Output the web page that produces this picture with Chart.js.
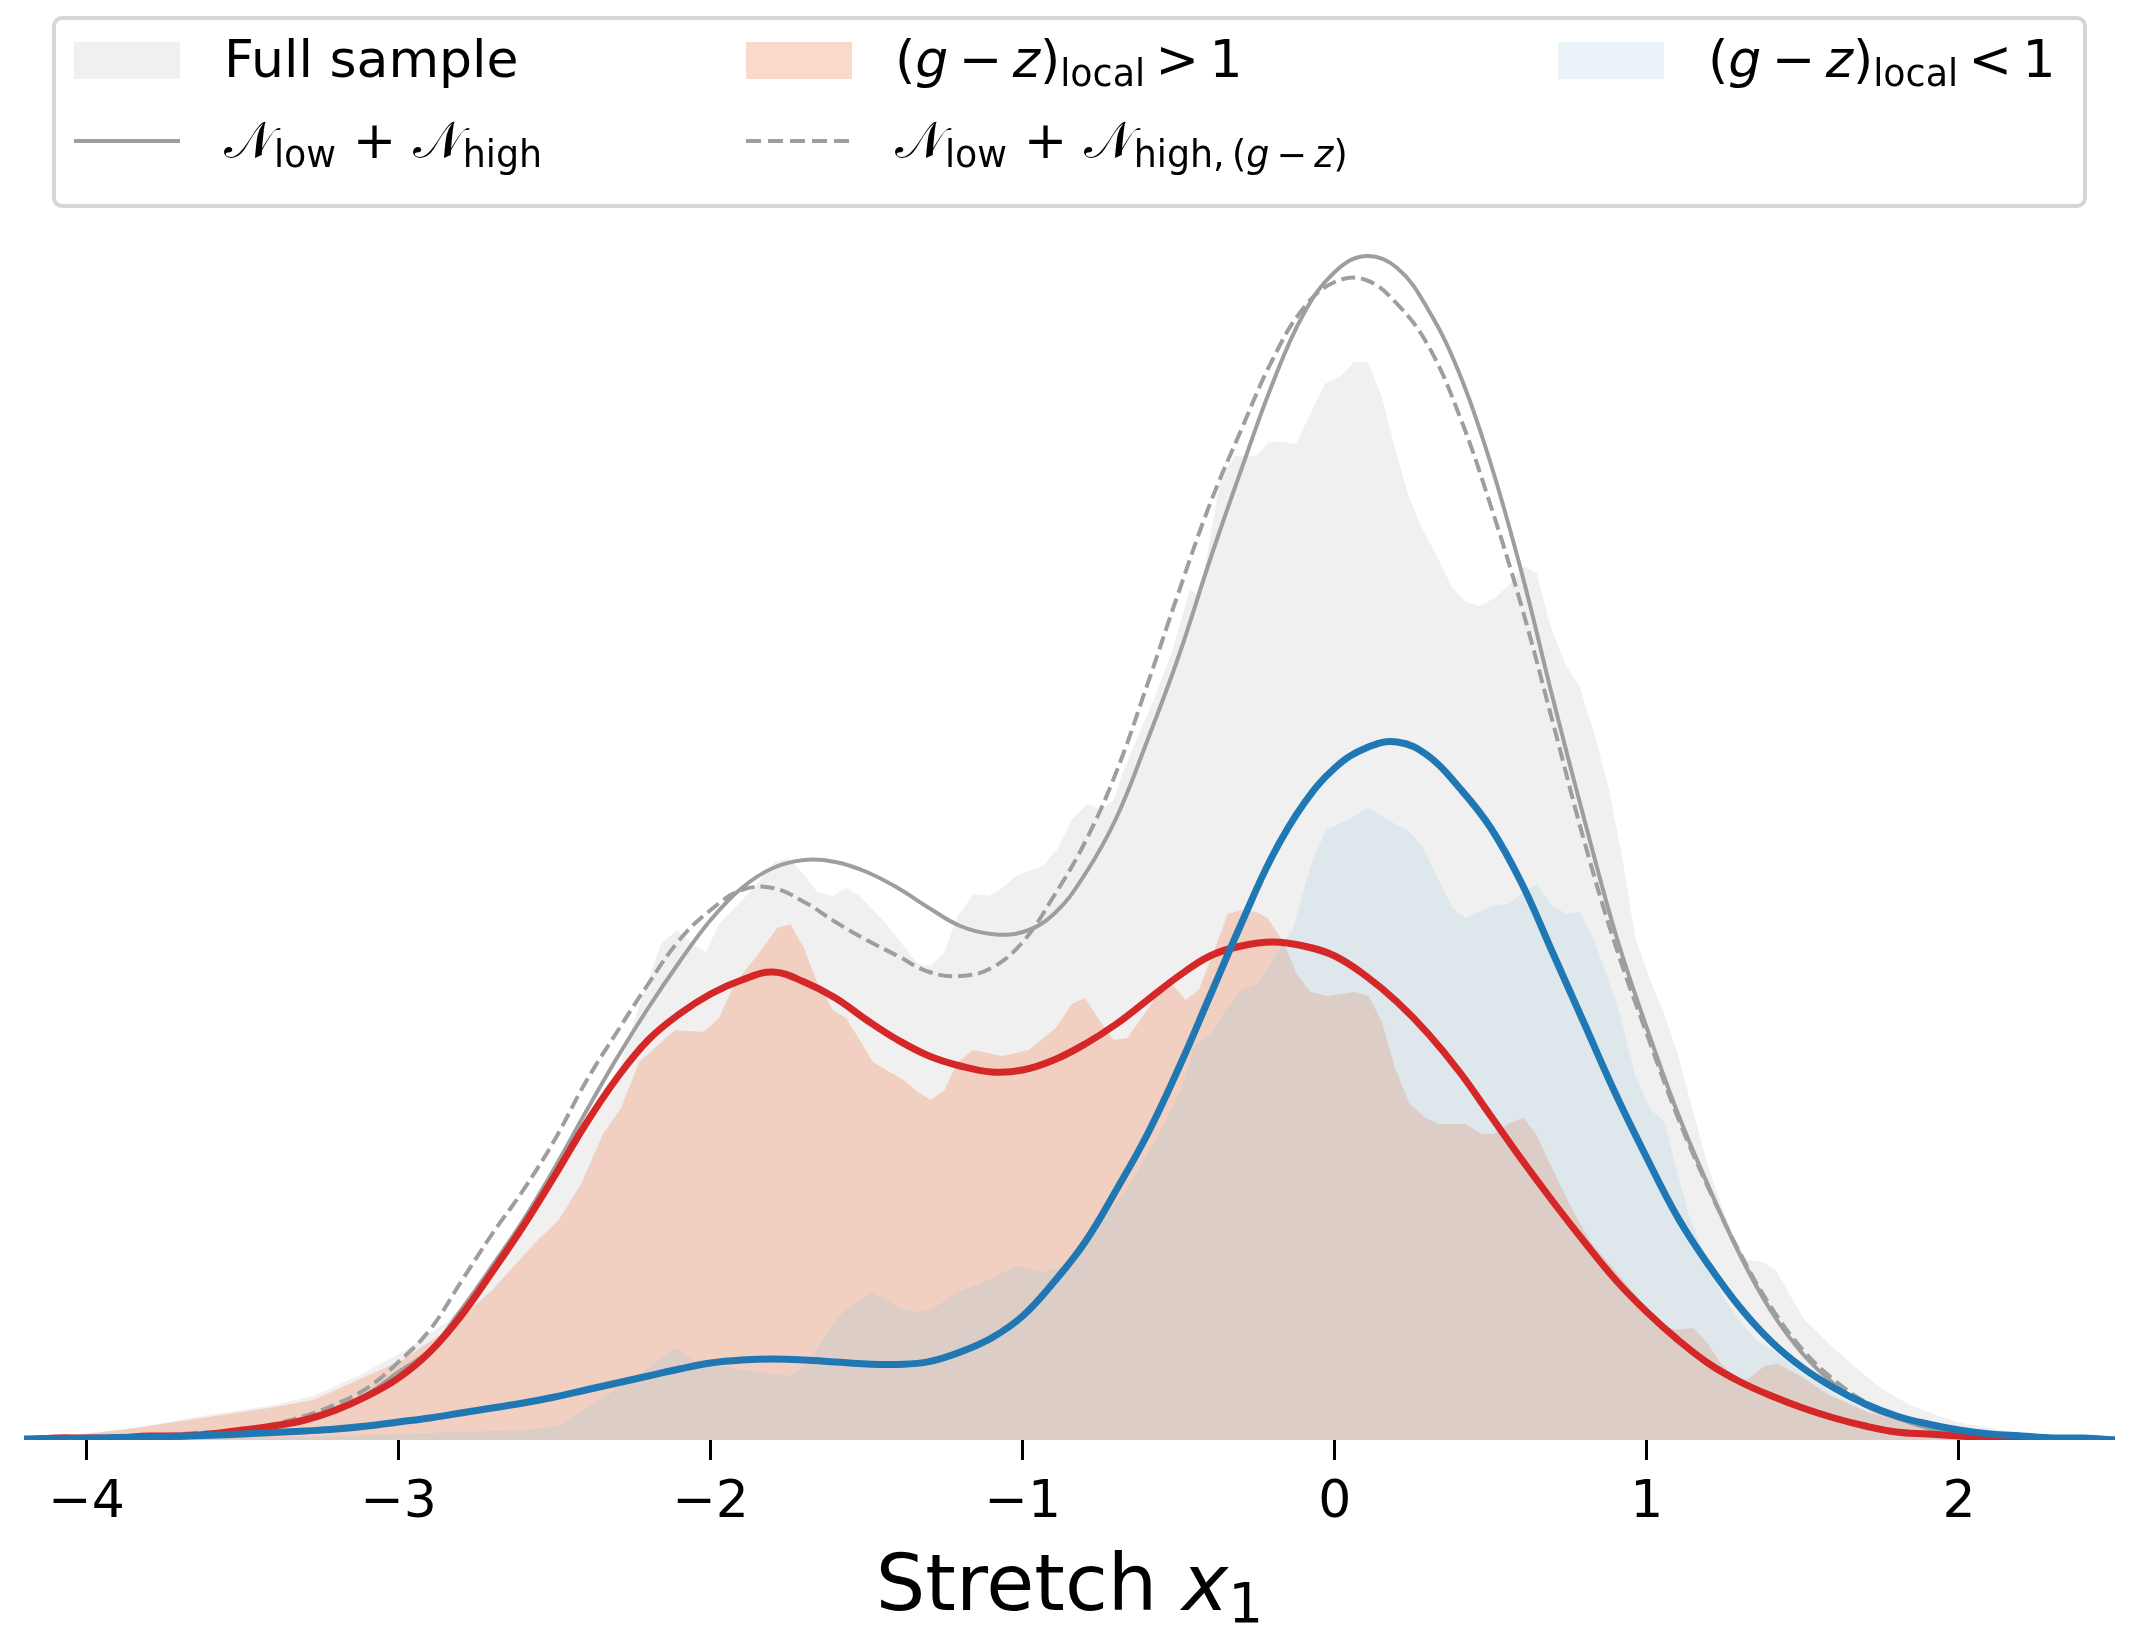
<!DOCTYPE html>
<html lang="en">
<head>
<meta charset="UTF-8">
<title>Stretch x1 distributions</title>
<script src="https://cdn.jsdelivr.net/npm/chart.js"></script>
<style>
  html, body { margin: 0; padding: 0; background: #fff; }
  #wrap { position: relative; width: 2142px; height: 1626px; }
  #chart { position: absolute; left: 0; top: 0; }
  .legend-box { position: absolute; left: 52px; top: 16px; width: 2035px; height: 192px; box-sizing: border-box;
                border: 4px solid #d6d6d6; border-radius: 10px; background: rgba(255,255,255,0.8); }
  .patch { position: absolute; width: 106px; height: 37px; top: 42px; }
  .hline { position: absolute; width: 106px; height: 4px; top: 139px; }
  .txt { position: absolute; white-space: nowrap; line-height: 1; font-family: "DejaVu Sans"; font-size: 52px; color: #000; }
  .txt sub { font-size: 70%; vertical-align: -0.24em; line-height: 0; }
  .cal { font-family: "DejaVu Sans", "DejaVu Serif", serif; }
</style>
</head>
<body>
<div id="wrap">
  <canvas id="chart" width="2142" height="1626"></canvas>

  <div class="legend-box"></div>
  <div class="patch" style="left:74px; background:#f0f0f0;"></div>
  <div class="txt" style="left:224px; top:33px;">Full sample</div>
  <div class="patch" style="left:746px; background:rgba(244,165,130,0.42);"></div>
  <div class="txt" style="left:895px; top:33px;">(<i>g</i>&#8201;−&#8201;<i>z</i>)<sub>local</sub>&#8201;&gt;&#8201;1</div>
  <div class="patch" style="left:1558px; background:rgba(146,197,222,0.2);"></div>
  <div class="txt" style="left:1708px; top:33px;">(<i>g</i>&#8201;−&#8201;<i>z</i>)<sub>local</sub>&#8201;&lt;&#8201;1</div>
  <div class="hline" style="left:74px; background:#9e9e9e;"></div>
  <div class="txt" style="left:224px; top:114px;"><span class="cal">𝒩</span><sub>low</sub> + <span class="cal">𝒩</span><sub>high</sub></div>
  <div class="hline" style="left:746px; background:repeating-linear-gradient(to right, #9e9e9e 0 15px, transparent 15px 22px);"></div>
  <div class="txt" style="left:895px; top:114px;"><span class="cal">𝒩</span><sub>low</sub> + <span class="cal">𝒩</span><sub>high,&#8201;(<i>g</i>&#8201;−&#8201;<i>z</i>)</sub></div>
</div>

<script>
// common x grid for the smooth model curves
const xGrid = [-4.2, -4.1, -4.0, -3.9, -3.8, -3.7, -3.6, -3.5, -3.4, -3.3,
               -3.2, -3.1, -3.0, -2.9, -2.8, -2.7, -2.6, -2.5, -2.4, -2.3,
               -2.2, -2.1, -2.0, -1.9, -1.8, -1.7, -1.6, -1.5, -1.4, -1.3,
               -1.2, -1.1, -1.0, -0.9, -0.8, -0.7, -0.6, -0.5, -0.4, -0.3,
               -0.2, -0.1, 0.0, 0.1, 0.2, 0.3, 0.4, 0.5, 0.6, 0.7,
               0.8, 0.9, 1.0, 1.1, 1.2, 1.3, 1.4, 1.5, 1.6, 1.7,
               1.8, 1.9, 2.0, 2.1, 2.2, 2.3, 2.4, 2.5];

// N_low + N_high (solid grey)
const modelAll = [0.001, 0.001, 0.001, 0.001, 0.002, 0.002, 0.003, 0.005, 0.007, 0.011,
                  0.016, 0.023, 0.034, 0.045, 0.065, 0.087, 0.110, 0.136, 0.164, 0.191,
                  0.216, 0.239, 0.260, 0.276, 0.286, 0.290, 0.289, 0.284, 0.276, 0.266,
                  0.257, 0.253, 0.254, 0.263, 0.283, 0.311, 0.350, 0.392, 0.440, 0.485,
                  0.528, 0.563, 0.584, 0.592, 0.586, 0.565, 0.533, 0.488, 0.433, 0.370,
                  0.310, 0.253, 0.206, 0.163, 0.126, 0.092, 0.064, 0.043, 0.028, 0.017,
                  0.011, 0.006, 0.003, 0.002, 0.001, 0.001, 0.000, 0.000];

// N_low + N_high,(g-z) (dashed grey)
const modelColour = [0.001, 0.001, 0.001, 0.001, 0.002, 0.003, 0.004, 0.005, 0.008, 0.012,
                     0.018, 0.026, 0.039, 0.055, 0.079, 0.103, 0.125, 0.150, 0.179, 0.204,
                     0.228, 0.250, 0.265, 0.275, 0.276, 0.269, 0.259, 0.250, 0.242, 0.234,
                     0.232, 0.236, 0.249, 0.272, 0.299, 0.334, 0.378, 0.424, 0.468, 0.505,
                     0.540, 0.566, 0.579, 0.580, 0.568, 0.547, 0.512, 0.467, 0.416, 0.358,
                     0.299, 0.247, 0.203, 0.161, 0.125, 0.093, 0.066, 0.045, 0.030, 0.019,
                     0.012, 0.007, 0.004, 0.002, 0.001, 0.001, 0.000, 0.000];

// model for (g-z) > 1 (red)
const modelRed = [0.000, 0.001, 0.001, 0.001, 0.002, 0.002, 0.003, 0.005, 0.007, 0.010,
                  0.015, 0.022, 0.031, 0.044, 0.062, 0.084, 0.107, 0.132, 0.158, 0.181,
                  0.200, 0.213, 0.223, 0.230, 0.234, 0.229, 0.221, 0.210, 0.200, 0.192,
                  0.187, 0.184, 0.185, 0.190, 0.198, 0.208, 0.220, 0.232, 0.242, 0.247,
                  0.249, 0.247, 0.242, 0.232, 0.219, 0.203, 0.184, 0.162, 0.140, 0.119,
                  0.099, 0.080, 0.064, 0.050, 0.038, 0.029, 0.022, 0.016, 0.011, 0.007,
                  0.004, 0.003, 0.002, 0.001, 0.001, 0.000, 0.000, 0.000];

// model for (g-z) < 1 (blue)
const modelBlue = [0.0005, 0.0007, 0.0009, 0.0012, 0.0015, 0.0019, 0.0024, 0.0030, 0.0037, 0.0045,
                   0.0055, 0.0070, 0.0090, 0.0110, 0.0135, 0.0160, 0.0185, 0.0215, 0.0250, 0.0285,
                   0.0320, 0.0355, 0.0385, 0.0400, 0.0405, 0.0400, 0.0390, 0.0380, 0.0378, 0.0392,
                   0.044, 0.051, 0.062, 0.079, 0.099, 0.125, 0.153, 0.186, 0.222, 0.258,
                   0.292, 0.318, 0.336, 0.346, 0.349, 0.342, 0.326, 0.306, 0.278, 0.243,
                   0.208, 0.173, 0.141, 0.111, 0.087, 0.066, 0.049, 0.036, 0.026, 0.018,
                   0.012, 0.008, 0.005, 0.003, 0.002, 0.001, 0.001, 0.000];

// sample density, full sample (light grey fill)
const fullX = [-4.2, -4.06, -3.845, -3.63, -3.416, -3.273, -3.13, -2.987, -2.844, -2.70,
               -2.56, -2.415, -2.30, -2.229, -2.159, -2.108, -2.058, -2.015, -1.973, -1.880,
               -1.794, -1.751, -1.708, -1.658, -1.608, -1.565, -1.522, -1.437, -1.336, -1.294,
               -1.251, -1.208, -1.158, -1.108, -1.065, -1.022, -0.936, -0.886, -0.843, -0.793,
               -0.750, -0.708, -0.679, -0.65, -0.58, -0.52, -0.464, -0.432, -0.367, -0.321,
               -0.253, -0.21, -0.167, -0.125, -0.032, 0.019, 0.061, 0.105, 0.148, 0.191,
               0.234, 0.276, 0.327, 0.377, 0.420, 0.462, 0.513, 0.555, 0.606, 0.648,
               0.691, 0.741, 0.784, 0.828, 0.878, 0.920, 0.963, 1.013, 1.056, 1.099,
               1.149, 1.192, 1.235, 1.277, 1.320, 1.370, 1.413, 1.456, 1.506, 1.578,
               1.663, 1.749, 1.848, 1.992, 2.207, 2.5];
const fullY = [0, 0.002, 0.006, 0.012, 0.017, 0.022, 0.032, 0.044, 0.059, 0.082,
               0.116, 0.151, 0.182, 0.217, 0.248, 0.255, 0.248, 0.244, 0.258, 0.273,
               0.289, 0.291, 0.284, 0.274, 0.272, 0.276, 0.272, 0.258, 0.238, 0.237,
               0.244, 0.262, 0.273, 0.272, 0.276, 0.282, 0.287, 0.296, 0.310, 0.318,
               0.315, 0.320, 0.334, 0.345, 0.370, 0.395, 0.425, 0.422, 0.480, 0.492,
               0.492, 0.499, 0.499, 0.498, 0.528, 0.532, 0.539, 0.539, 0.523, 0.497,
               0.473, 0.457, 0.442, 0.426, 0.419, 0.417, 0.421, 0.427, 0.437, 0.433,
               0.407, 0.387, 0.377, 0.355, 0.326, 0.292, 0.251, 0.229, 0.213, 0.193,
               0.164, 0.139, 0.119, 0.102, 0.090, 0.089, 0.085, 0.073, 0.060, 0.049,
               0.037, 0.026, 0.017, 0.009, 0.003, 0.001];

// sample density, (g-z)_local > 1 (salmon fill)
const redX = [-4.2, -4.06, -3.845, -3.63, -3.416, -3.273, -3.13, -2.987, -2.844, -2.70,
              -2.56, -2.487, -2.415, -2.345, -2.287, -2.229, -2.172, -2.114, -2.022, -1.973,
              -1.923, -1.837, -1.787, -1.744, -1.701, -1.659, -1.608, -1.566, -1.522, -1.480,
              -1.437, -1.381, -1.336, -1.294, -1.251, -1.208, -1.158, -1.065, -0.98, -0.894,
              -0.843, -0.80, -0.75, -0.708, -0.664, -0.615, -0.571, -0.522, -0.478, -0.436,
              -0.393, -0.343, -0.301, -0.25, -0.215, -0.164, -0.122, -0.078, -0.021, 0.064,
              0.108, 0.151, 0.193, 0.240, 0.291, 0.333, 0.420, 0.47, 0.512, 0.555,
              0.606, 0.648, 0.705, 0.762, 0.82, 0.891, 0.977, 1.02, 1.092, 1.149,
              1.192, 1.234, 1.277, 1.32, 1.377, 1.42, 1.492, 1.578, 1.706, 1.848,
              2.0, 2.2, 2.5];
const redY = [0, 0.002, 0.006, 0.011, 0.016, 0.020, 0.030, 0.040, 0.055, 0.075,
              0.099, 0.110, 0.128, 0.153, 0.166, 0.189, 0.197, 0.205, 0.204, 0.211,
              0.228, 0.245, 0.256, 0.258, 0.246, 0.229, 0.215, 0.211, 0.200, 0.189,
              0.185, 0.180, 0.174, 0.170, 0.175, 0.189, 0.195, 0.192, 0.195, 0.206,
              0.218, 0.221, 0.209, 0.200, 0.201, 0.212, 0.222, 0.228, 0.220, 0.225,
              0.242, 0.263, 0.265, 0.264, 0.261, 0.249, 0.233, 0.224, 0.222, 0.224,
              0.222, 0.209, 0.186, 0.168, 0.161, 0.158, 0.158, 0.153, 0.153, 0.158,
              0.161, 0.152, 0.133, 0.115, 0.099, 0.086, 0.070, 0.059, 0.055, 0.056,
              0.049, 0.039, 0.032, 0.030, 0.037, 0.038, 0.032, 0.023, 0.014, 0.008,
              0.004, 0.002, 0];

// sample density, (g-z)_local < 1 (light blue fill)
const blueX = [-4.2, -3.5, -3.2, -3.0, -2.8, -2.6, -2.487, -2.345, -2.172, -2.114,
               -2.058, -1.96, -1.894, -1.751, -1.694, -1.622, -1.565, -1.48, -1.394, -1.336,
               -1.294, -1.208, -1.122, -1.022, -0.936, -0.850, -0.794, -0.73, -0.664, -0.58,
               -0.493, -0.45, -0.394, -0.35, -0.30, -0.25, -0.207, -0.164, -0.135, -0.078,
               -0.028, 0.064, 0.108, 0.151, 0.205, 0.240, 0.283, 0.327, 0.377, 0.42,
               0.505, 0.555, 0.598, 0.648, 0.691, 0.741, 0.784, 0.828, 0.870, 0.913,
               0.963, 1.013, 1.056, 1.092, 1.134, 1.192, 1.25, 1.3, 1.35, 1.4,
               1.5, 1.6, 1.7, 1.8, 1.9, 2.0, 2.2, 2.5];
const blueY = [0, 0.001, 0.002, 0.003, 0.004, 0.005, 0.007, 0.021, 0.039, 0.046,
               0.040, 0.037, 0.035, 0.032, 0.037, 0.055, 0.066, 0.074, 0.066, 0.064,
               0.065, 0.074, 0.079, 0.087, 0.084, 0.088, 0.097, 0.113, 0.126, 0.148,
               0.175, 0.197, 0.203, 0.215, 0.225, 0.228, 0.238, 0.249, 0.255, 0.287,
               0.305, 0.312, 0.316, 0.312, 0.307, 0.304, 0.296, 0.282, 0.266, 0.261,
               0.267, 0.268, 0.273, 0.278, 0.268, 0.263, 0.264, 0.251, 0.233, 0.213,
               0.182, 0.165, 0.159, 0.137, 0.113, 0.088, 0.070, 0.059, 0.050, 0.045,
               0.033, 0.023, 0.015, 0.010, 0.006, 0.004, 0.001, 0];

const xTicks = [-4, -3, -2, -1, 0, 1, 2];

const pts = (xs, ys) => xs.map((x, i) => ({ x: x, y: ys[i] }));

// draws "Stretch x_1" under the axis, matplotlib style
const xTitlePlugin = {
  id: 'xTitle',
  afterDraw(chart) {
    const { ctx, chartArea } = chart;
    const parts = [
      { t: 'Stretch ', f: '78px "DejaVu Sans"', dy: 0 },
      { t: 'x', f: 'italic 78px "DejaVu Sans"', dy: 0 },
      { t: '1', f: '55px "DejaVu Sans"', dy: 12 }
    ];
    ctx.save();
    let w = 0;
    parts.forEach(p => { ctx.font = p.f; p.w = ctx.measureText(p.t).width; w += p.w; });
    let x = (chartArea.left + chartArea.right) / 2 - w / 2;
    const y = chartArea.bottom + 170;
    ctx.fillStyle = '#000';
    ctx.textBaseline = 'alphabetic';
    parts.forEach(p => { ctx.font = p.f; ctx.fillText(p.t, x, y + p.dy); x += p.w; });
    ctx.restore();
  }
};

Chart.defaults.font.family = '"DejaVu Sans"';

const fillSet = (label, xs, ys, color, order) => ({
  label: label, data: pts(xs, ys), order: order,
  fill: 'origin', backgroundColor: color, borderColor: 'rgba(0,0,0,0)', borderWidth: 0,
  pointRadius: 0, tension: 0
});
const lineSet = (label, ys, color, width, order, dash) => ({
  label: label, data: pts(xGrid, ys), order: order,
  fill: false, borderColor: color, borderWidth: width, borderDash: dash || [],
  pointRadius: 0, tension: 0.4
});

new Chart(document.getElementById('chart'), {
  type: 'line',
  data: {
    datasets: [
      lineSet('N_low + N_high (g-z<1 part)', modelBlue, '#1f77b4', 7, 1),
      lineSet('N_low + N_high (g-z>1 part)', modelRed, '#d62728', 7, 2),
      lineSet('N_low + N_high,(g-z)', modelColour, '#9e9e9e', 4, 3, [14, 6]),
      lineSet('N_low + N_high', modelAll, '#9e9e9e', 4, 4),
      fillSet('(g-z)_local < 1', blueX, blueY, 'rgba(146,197,222,0.2)', 5),
      fillSet('(g-z)_local > 1', redX, redY, 'rgba(244,165,130,0.42)', 6),
      fillSet('Full sample', fullX, fullY, '#f0f0f0', 7)
    ]
  },
  plugins: [xTitlePlugin],
  options: {
    responsive: false,
    animation: false,
    events: [],
    layout: { padding: { top: 200, left: 24, right: 27, bottom: 0 } },
    plugins: { legend: { display: false }, tooltip: { enabled: false } },
    scales: {
      x: {
        type: 'linear', min: -4.2, max: 2.5,
        afterBuildTicks: s => { s.ticks = xTicks.map(v => ({ value: v })); },
        afterFit: s => { s.height = 186; },
        border: { display: false },
        grid: { drawOnChartArea: false, drawTicks: true, tickLength: 20, lineWidth: 3, tickWidth: 3, tickColor: '#000' },
        ticks: {
          color: '#000', padding: 12, font: { size: 52 },
          callback: v => (v < 0 ? '\u2212' + Math.abs(v) : String(v))
        }
      },
      y: { display: false, min: 0, max: 0.62 }
    }
  }
});
</script>
</body>
</html>
